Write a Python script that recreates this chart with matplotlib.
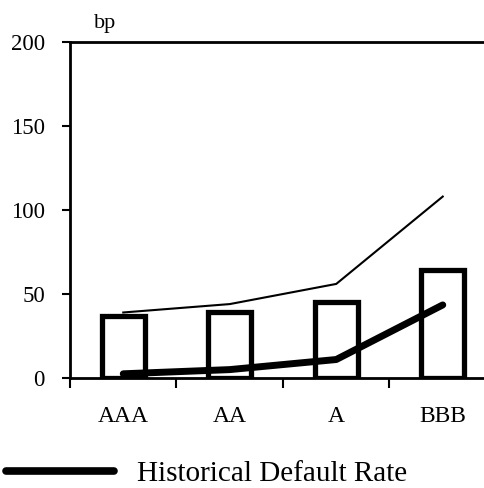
#! /usr/bin/env python3
# Bar + line chart: spreads by rating vs historical default rate (bp)

import numpy as np
import matplotlib
matplotlib.use("Agg")
import matplotlib.pyplot as plt

ratings = ["AAA", "AA", "A", "BBB"]
bar_values = [37, 39, 45, 64]
upper_line = [39, 44, 56, 108]
default_rate = [2.5, 5, 11, 43.5]
y_ticks = [0, 50, 100, 150, 200]


def main():
    plt.rcParams["font.family"] = ["Liberation Serif", "DejaVu Serif"]
    fig = plt.figure(figsize=(4.85, 4.88), dpi=100)
    ax = fig.add_axes([70 / 485, 110 / 488, 426 / 485, 336 / 488])

    x = np.arange(len(ratings))
    ax.bar(x, bar_values, width=0.4, facecolor="white", edgecolor="black",
           linewidth=3.8, zorder=2)
    ax.plot(x, upper_line, color="black", linewidth=1.5, zorder=3)
    hist, = ax.plot(x, default_rate, color="black", linewidth=5,
                    solid_capstyle="round", zorder=4)

    ax.set_xlim(-0.5, len(ratings) - 0.5)
    ax.set_ylim(0, 200)
    ax.set_yticks(y_ticks)
    ax.set_xticks(np.arange(len(ratings) + 1) - 0.5)
    ax.set_xticklabels([])
    ax.set_xticks(x, minor=True)
    ax.set_xticklabels(ratings, minor=True)
    ax.tick_params(axis="x", which="minor", length=0, pad=20, labelsize=17)
    ax.tick_params(axis="x", which="major", length=7, width=1.5, direction="out")
    ax.tick_params(axis="y", length=6, width=1.5, direction="out", pad=12,
                   labelsize=16.5)

    for side in ["left", "top", "bottom"]:
        ax.spines[side].set_linewidth(2)
    ax.spines["right"].set_visible(False)

    ax.text(0.082, 1.042, "bp", transform=ax.transAxes, fontsize=16,
            ha="center", va="baseline")

    leg = fig.legend([hist], ["Historical Default Rate"], loc="center left",
                     bbox_to_anchor=(0.0, 1 - 474 / 488), frameon=False,
                     fontsize=21, handlelength=3.7, handletextpad=0.8,
                     borderaxespad=0, borderpad=0.2)
    leg.get_lines()[0].set_linewidth(5.5)

    fig.savefig("out.png", dpi=100)


if __name__ == "__main__":
    main()
